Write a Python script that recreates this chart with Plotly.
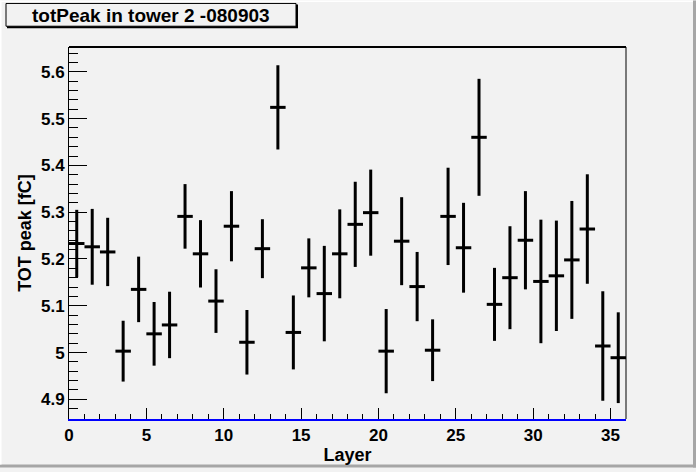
import plotly.graph_objects as go

# layer bins (centres) and fitted TOT peak per layer, tower 2
layer = [i + 0.5 for i in range(36)]
tot_peak = [5.233, 5.226, 5.215, 5.003, 5.135, 5.040, 5.059, 5.291, 5.211, 5.110,
            5.270, 5.022, 5.222, 5.524, 5.043, 5.181, 5.126, 5.211, 5.274, 5.299,
            5.003, 5.238, 5.141, 5.005, 5.291, 5.224, 5.460, 5.103, 5.160, 5.240,
            5.152, 5.164, 5.198, 5.264, 5.014, 4.989]
tot_err = [0.072, 0.081, 0.073, 0.065, 0.070, 0.068, 0.071, 0.069, 0.072, 0.068,
           0.075, 0.069, 0.063, 0.090, 0.079, 0.063, 0.102, 0.095, 0.091, 0.092,
           0.090, 0.094, 0.074, 0.066, 0.104, 0.096, 0.125, 0.078, 0.110, 0.105,
           0.132, 0.118, 0.126, 0.117, 0.117, 0.097]

W, H = 696, 472
ML, MR, MT, MB = 69, 70, 47, 49
PW, PH = W - ML - MR, H - MT - MB


def px(x):
    return (x - ML) / PW


def py(y):
    return (H - MB - y) / PH


font = "Liberation Sans, Arial, Helvetica, sans-serif"

fig = go.Figure()
fig.add_trace(go.Scatter(
    x=layer, y=tot_peak, mode="markers",
    marker=dict(size=1, color="black"),
    error_x=dict(type="constant", value=0.5, width=0, thickness=3, color="black"),
    error_y=dict(type="data", array=tot_err, width=0, thickness=3, color="black"),
    showlegend=False, hoverinfo="x+y",
))

shapes = [
    # frame top / right
    dict(type="line", xref="paper", yref="paper", x0=0, x1=1, y0=1, y1=1,
         line=dict(color="black", width=2)),
    dict(type="line", xref="paper", yref="paper", x0=1, x1=1, y0=0, y1=1,
         line=dict(color="black", width=1)),
    # title box
    dict(type="rect", xref="paper", yref="paper", x0=px(6), x1=px(296), y0=py(26), y1=py(3),
         line=dict(color="black", width=1)),
    dict(type="line", xref="paper", yref="paper", x0=px(297), x1=px(297), y0=py(27), y1=py(4),
         line=dict(color="black", width=2)),
    dict(type="line", xref="paper", yref="paper", x0=px(7), x1=px(298), y0=py(27), y1=py(27),
         line=dict(color="black", width=2)),
    # canvas border
    dict(type="rect", xref="paper", yref="paper", x0=px(693), x1=px(696), y0=py(472), y1=py(0),
         fillcolor="#a6a6a6", line=dict(width=0)),
    dict(type="rect", xref="paper", yref="paper", x0=px(0), x1=px(696), y0=py(472), y1=py(469),
         fillcolor="#a6a6a6", line=dict(width=0)),
    dict(type="rect", xref="paper", yref="paper", x0=px(0), x1=px(693), y0=py(1.5), y1=py(0),
         fillcolor="white", line=dict(width=0)),
    dict(type="rect", xref="paper", yref="paper", x0=px(0), x1=px(1.5), y0=py(469), y1=py(0),
         fillcolor="white", line=dict(width=0)),
]

fig.update_layout(
    width=W, height=H, autosize=False,
    margin=dict(l=ML, r=MR, t=MT, b=MB),
    paper_bgcolor="#f2f2f2", plot_bgcolor="#f2f2f2",
    font=dict(family=font, color="black", size=15),
    shapes=shapes,
    annotations=[dict(
        text="<b>totPeak in tower 2 -080903</b>", xref="paper", yref="paper",
        x=px(151), y=py(15), xanchor="center", yanchor="middle", showarrow=False,
        font=dict(size=19, family=font, color="black"),
    )],
    xaxis=dict(
        range=[0, 36], showgrid=False, zeroline=False,
        showline=True, linecolor="blue", linewidth=2,
        ticks="inside", ticklen=11, tickwidth=1, tickcolor="black",
        dtick=5, tick0=0,
        tickfont=dict(size=17, family=font, weight="bold"),
        minor=dict(ticks="inside", ticklen=5, dtick=1, tickcolor="black", tickwidth=1),
        title=dict(text="<b>Layer</b>", font=dict(size=18, family=font), standoff=2),
    ),
    yaxis=dict(
        range=[4.858, 5.653], showgrid=False, zeroline=False,
        showline=True, linecolor="black", linewidth=1,
        ticks="inside", ticklen=18, tickwidth=1, tickcolor="black",
        dtick=0.1, tick0=4.9, tickformat="~g",
        tickfont=dict(size=17, family=font, weight="bold"),
        minor=dict(ticks="inside", ticklen=9, dtick=0.02, tickcolor="black", tickwidth=1),
        title=dict(text="<b>TOT peak [fC]</b>", font=dict(size=18, family=font), standoff=4),
    ),
)

fig.write_html("out.html", config={"displayModeBar": False},
               post_script="document.body.style.margin='0';")
